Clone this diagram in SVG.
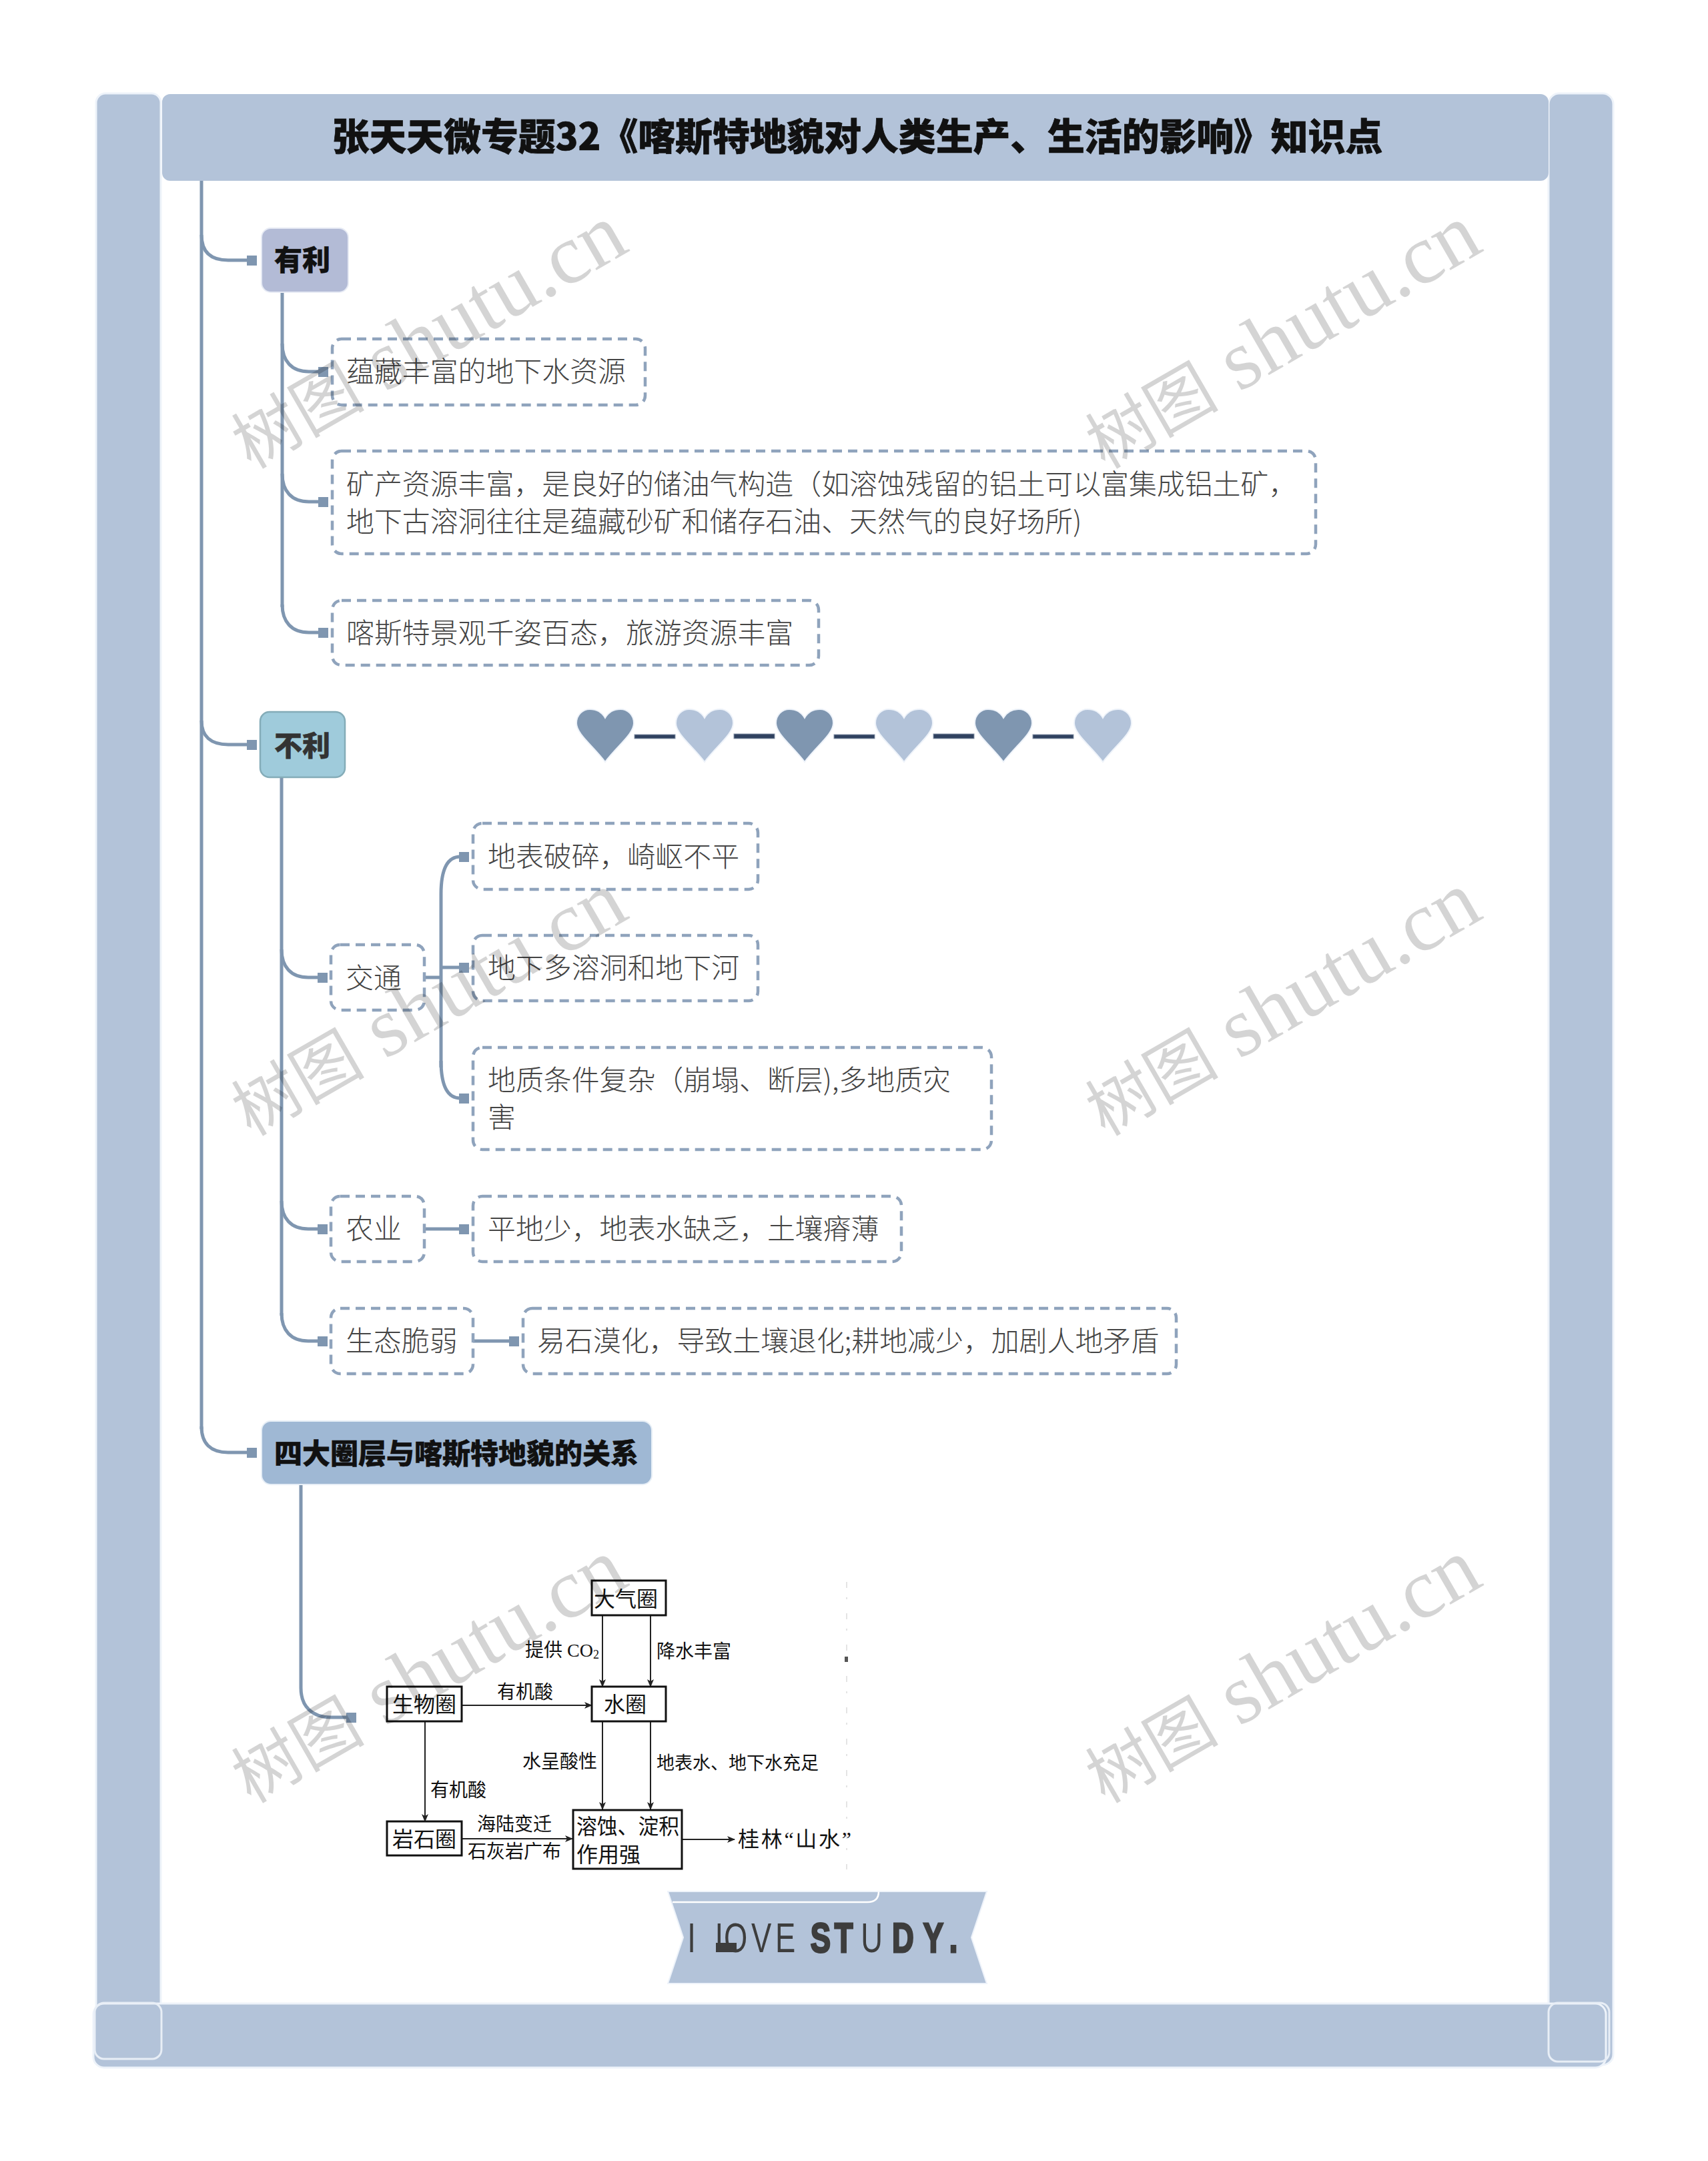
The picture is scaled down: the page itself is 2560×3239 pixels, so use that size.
<svg xmlns="http://www.w3.org/2000/svg" width="2560" height="3239" viewBox="0 0 2560 3239">
<defs>
<style>
text{font-family:"Noto Sans CJK SC","Noto Sans",sans-serif}
.frame{fill:#b3c3d9;stroke:#eef3fa;stroke-width:3}
.ring{fill:none;stroke:#e8eef6;stroke-width:3}
.c{fill:none;stroke:#7f96b0;stroke-width:5}
.sq{fill:#7f96b0}
.dash{fill:none;stroke:#8fa3bc;stroke-width:4.5;stroke-dasharray:14 9}
.t{font-size:41.9px;font-weight:300;fill:#444;dominant-baseline:central}
.h{font-size:42px;font-weight:900;fill:#111;stroke:#111;stroke-width:.5;dominant-baseline:central;text-anchor:middle}
.b{fill:#fff;stroke:#111;stroke-width:3}
.bt{font-size:32px;fill:#111;dominant-baseline:central;font-weight:400}
.bs{font-size:28px;fill:#111;dominant-baseline:central;font-weight:400}
.a{fill:none;stroke:#222;stroke-width:2;marker-end:url(#ah)}
.wm{font-size:127px;fill:#000;fill-opacity:.17;font-family:"Liberation Serif","Noto Sans CJK SC",serif}
.wm tspan{font-size:100px;font-family:"Noto Sans CJK SC",serif}
.dk{fill:#7f96b0;stroke:#eef3fa;stroke-width:2}
.lt{fill:#b3c3d9;stroke:#eef3fa;stroke-width:2}
.bar{fill:#2f415f;stroke:#8a98ab;stroke-width:1}
.sf{font-family:"Liberation Serif","Noto Sans CJK SC",serif}
</style>
<marker id="ah" viewBox="0 0 12 10" refX="11" refY="5" markerWidth="12" markerHeight="10" markerUnits="userSpaceOnUse" orient="auto"><path d="M0 0L12 5L0 10L3 5Z" fill="#222"/></marker>
<path id="hrt" d="M0 79C-18 55-43 37-43 21C-43 8-33 0-23 0C-12 0-4 6 0 13C4 6 12 0 23 0C33 0 43 8 43 21C43 37 18 55 0 79Z"/>
</defs>
<rect width="2560" height="3239" fill="#fff"/>

<g id="frame">
<rect class="frame" x="144" y="140" width="97" height="2920" rx="14"/>
<rect class="frame" x="2321" y="140" width="97" height="2955" rx="16"/>
<rect class="frame" x="140" y="3003" width="2267" height="96" rx="16"/>
<rect x="243" y="141" width="2078" height="130" rx="12" fill="#b3c3d9"/>
<rect class="ring" x="142" y="3002" width="100" height="84" rx="14"/>
<rect class="ring" x="2321" y="3002" width="91" height="88" rx="14"/>
</g>

<g id="connectors">
<path class="c" d="M302 271V2142"/>
<path class="c" d="M302 352C302 378 316 390 342 390H372"/>
<path class="c" d="M302 1080C302 1104 316 1116 342 1116H372"/>
<path class="c" d="M302 2138C302 2164 316 2177 342 2177H372"/>
<path class="c" d="M423 438V910"/>
<path class="c" d="M423 515C423 541 437 557 463 557H480"/>
<path class="c" d="M423 710C423 736 437 752 463 752H480"/>
<path class="c" d="M423 906C423 932 437 948 463 948H480"/>
<path class="c" d="M422 1165V1972"/>
<path class="c" d="M422 1423C422 1449 436 1465 462 1465H478"/>
<path class="c" d="M422 1800C422 1826 436 1842 462 1842H478"/>
<path class="c" d="M422 1968C422 1994 436 2010 462 2010H478"/>
<path class="c" d="M636 1465H661"/>
<path class="c" d="M661 1450H690"/>
<path class="c" d="M661 1600V1340C661 1305 669 1284 690 1284"/>
<path class="c" d="M661 1590C661 1625 669 1646 690 1646"/>
<path class="c" d="M636 1842H690"/>
<path class="c" d="M709 2010H765"/>
<path class="c" d="M451 2225V2530C451 2558 468 2574 496 2574H520"/>
<rect class="sq" x="370" y="383" width="15" height="15"/>
<rect class="sq" x="370" y="1109" width="15" height="15"/>
<rect class="sq" x="370" y="2170" width="15" height="15"/>
<rect class="sq" x="477" y="550" width="15" height="15"/>
<rect class="sq" x="477" y="745" width="15" height="15"/>
<rect class="sq" x="477" y="941" width="15" height="15"/>
<rect class="sq" x="476" y="1458" width="15" height="15"/>
<rect class="sq" x="476" y="1835" width="15" height="15"/>
<rect class="sq" x="476" y="2003" width="15" height="15"/>
<rect class="sq" x="688" y="1277" width="15" height="15"/>
<rect class="sq" x="688" y="1443" width="15" height="15"/>
<rect class="sq" x="688" y="1639" width="15" height="15"/>
<rect class="sq" x="688" y="1835" width="15" height="15"/>
<rect class="sq" x="763" y="2003" width="15" height="15"/>
<rect class="sq" x="519" y="2567" width="15" height="15"/>
</g>

<g id="title"><text x="1285" y="200" text-anchor="middle" dominant-baseline="central" font-size="55.8" font-weight="900" fill="#111" stroke="#111" stroke-width=".7">张天天微专题32《喀斯特地貌对人类生产、生活的影响》知识点</text></g>

<g id="n-youli"><rect x="392" y="342" width="130" height="96" rx="14" fill="#b3bbd6" stroke="#e6eaf4" stroke-width="2"/><text class="h" x="453" y="386">有利</text></g>
<g id="n-a1"><rect class="dash" x="498" y="508" width="469" height="99" rx="14"/><text class="t" x="519" y="553">蕴藏丰富的地下水资源</text></g>
<g id="n-a2"><rect class="dash" x="498" y="676" width="1474" height="154" rx="14"/><text class="t" x="519" y="722">矿产资源丰富，是良好的储油气构造（如溶蚀残留的铝土可以富集成铝土矿，</text><text class="t" x="519" y="778">地下古溶洞往往是蕴藏砂矿和储存石油、天然气的良好场所)</text></g>
<g id="n-a3"><rect class="dash" x="498" y="900" width="729" height="97" rx="14"/><text class="t" x="519" y="945">喀斯特景观千姿百态，旅游资源丰富</text></g>

<g id="n-buli"><rect x="390" y="1067" width="127" height="98" rx="14" fill="#9fcbdb" stroke="#84acb8" stroke-width="2.5"/><text class="h" x="453" y="1114" style="fill:#333;stroke:#333">不利</text></g>
<g id="n-jiaotong"><rect class="dash" x="496" y="1416" width="140" height="98" rx="14"/><text class="t" x="518" y="1462">交通</text></g>
<g id="n-b1"><rect class="dash" x="709" y="1234" width="427" height="99" rx="14"/><text class="t" x="731" y="1280">地表破碎，崎岖不平</text></g>
<g id="n-b2"><rect class="dash" x="709" y="1402" width="427" height="98" rx="14"/><text class="t" x="731" y="1447">地下多溶洞和地下河</text></g>
<g id="n-b3"><rect class="dash" x="709" y="1570" width="777" height="153" rx="14"/><text class="t" x="731" y="1615">地质条件复杂（崩塌、断层),多地质灾</text><text class="t" x="731" y="1671">害</text></g>
<g id="n-nongye"><rect class="dash" x="496" y="1793" width="140" height="98" rx="14"/><text class="t" x="518" y="1838">农业</text></g>
<g id="n-c1"><rect class="dash" x="709" y="1793" width="642" height="98" rx="14"/><text class="t" x="731" y="1838">平地少，地表水缺乏，土壤瘠薄</text></g>
<g id="n-shengtai"><rect class="dash" x="496" y="1961" width="213" height="98" rx="14"/><text class="t" x="518" y="2006">生态脆弱</text></g>
<g id="n-d1"><rect class="dash" x="784" y="1961" width="979" height="98" rx="14"/><text class="t" x="805" y="2006">易石漠化，导致土壤退化;耕地减少，加剧人地矛盾</text></g>

<g id="n-sida"><rect x="392" y="2130" width="585" height="95" rx="14" fill="#9fb8d4" stroke="#e6eef6" stroke-width="2"/><text class="h" x="684" y="2175">四大圈层与喀斯特地貌的关系</text></g>

<g id="hearts">
<use href="#hrt" class="dk" x="907" y="1063"/>
<use href="#hrt" class="lt" x="1056" y="1063"/>
<use href="#hrt" class="dk" x="1206" y="1063"/>
<use href="#hrt" class="lt" x="1355" y="1063"/>
<use href="#hrt" class="dk" x="1504" y="1063"/>
<use href="#hrt" class="lt" x="1653" y="1063"/>
<rect class="bar" x="951" y="1101" width="61" height="6"/>
<rect class="bar" x="1100" y="1100" width="61" height="7"/>
<rect class="bar" x="1250" y="1101" width="61" height="6"/>
<rect class="bar" x="1399" y="1100" width="61" height="7"/>
<rect class="bar" x="1548" y="1101" width="61" height="6"/>
</g>

<g id="figure">
<path class="a" d="M903 2420V2528"/>
<path class="a" d="M975 2420V2528"/>
<path class="a" d="M692 2556H887"/>
<path class="a" d="M637 2580V2730"/>
<path class="a" d="M903 2580V2712"/>
<path class="a" d="M975 2580V2712"/>
<path class="a" d="M692 2756H858"/>
<path class="a" d="M1022 2757H1101"/>
<g id="f-daqi"><rect class="b" x="887" y="2369" width="111" height="52"/><text class="bt" x="890" y="2394">大气圈</text></g>
<g id="f-shui"><rect class="b" x="887" y="2528" width="111" height="52"/><text class="bt" x="905" y="2552">水圈</text></g>
<g id="f-shengwu"><rect class="b" x="580" y="2528" width="112" height="52"/><text class="bt" x="588" y="2552">生物圈</text></g>
<g id="f-yanshi"><rect class="b" x="580" y="2730" width="112" height="51"/><text class="bt" x="588" y="2754">岩石圈</text></g>
<g id="f-rongshi"><rect class="b" x="859" y="2713" width="163" height="88"/><text class="bt" x="864" y="2735" textLength="154" lengthAdjust="spacingAndGlyphs">溶蚀、淀积</text><text class="bt" x="864" y="2777">作用强</text></g>
<text class="bs sf" x="787" y="2473">提供 CO<tspan font-size="18" dy="7">2</tspan></text>
<text class="bs" x="984" y="2473">降水丰富</text>
<text class="bs" x="745" y="2534">有机酸</text>
<text class="bs" x="783" y="2638">水呈酸性</text>
<text class="bs" x="984" y="2640" style="font-size:27px">地表水、地下水充足</text>
<text class="bs" x="645" y="2681">有机酸</text>
<text class="bs" x="715" y="2732">海陆变迁</text>
<text class="bs" x="701" y="2773">石灰岩广布</text>
<text class="bt sf" x="1106" y="2757" textLength="170" lengthAdjust="spacing">桂林“山水”</text>
<path d="M1269 2371V2802" stroke="#e4e4e4" stroke-width="2" stroke-dasharray="9 14 3 21" fill="none"/>
<rect x="1266" y="2483" width="5" height="8" fill="#555"/>
</g>

<g id="banner">
<path d="M1001 2835H1479L1456 2904L1479 2973H1001L1024 2904Z" fill="#b3c3d9" stroke="#eef3fa" stroke-width="2"/>
<path d="M1008 2851H1300Q1317 2851 1317 2835" fill="none" stroke="#fff" stroke-width="2.5"/>
<rect x="1073" y="2912" width="31" height="14" fill="#3d3d3d"/>
<text transform="translate(0 2926) scale(.72 1)" x="1431 1458 1489 1507 1564 1614 1667 1687 1737 1792 1857 1922 1976" y="0" font-size="63" style="font-family:'Liberation Sans',sans-serif" fill="#3d3d3d">I LOVE <tspan font-weight="700" stroke="#3d3d3d" stroke-width="3">ST</tspan>U<tspan font-weight="700" stroke="#3d3d3d" stroke-width="3">DY.</tspan></text>
</g>

<g id="watermarks">
<text class="wm" transform="translate(376 704) rotate(-30)"><tspan>树图</tspan> shutu.cn</text>
<text class="wm" transform="translate(1656 704) rotate(-30)"><tspan>树图</tspan> shutu.cn</text>
<text class="wm" transform="translate(376 1704) rotate(-30)"><tspan>树图</tspan> shutu.cn</text>
<text class="wm" transform="translate(1656 1704) rotate(-30)"><tspan>树图</tspan> shutu.cn</text>
<text class="wm" transform="translate(376 2704) rotate(-30)"><tspan>树图</tspan> shutu.cn</text>
<text class="wm" transform="translate(1656 2704) rotate(-30)"><tspan>树图</tspan> shutu.cn</text>
</g>
</svg>
